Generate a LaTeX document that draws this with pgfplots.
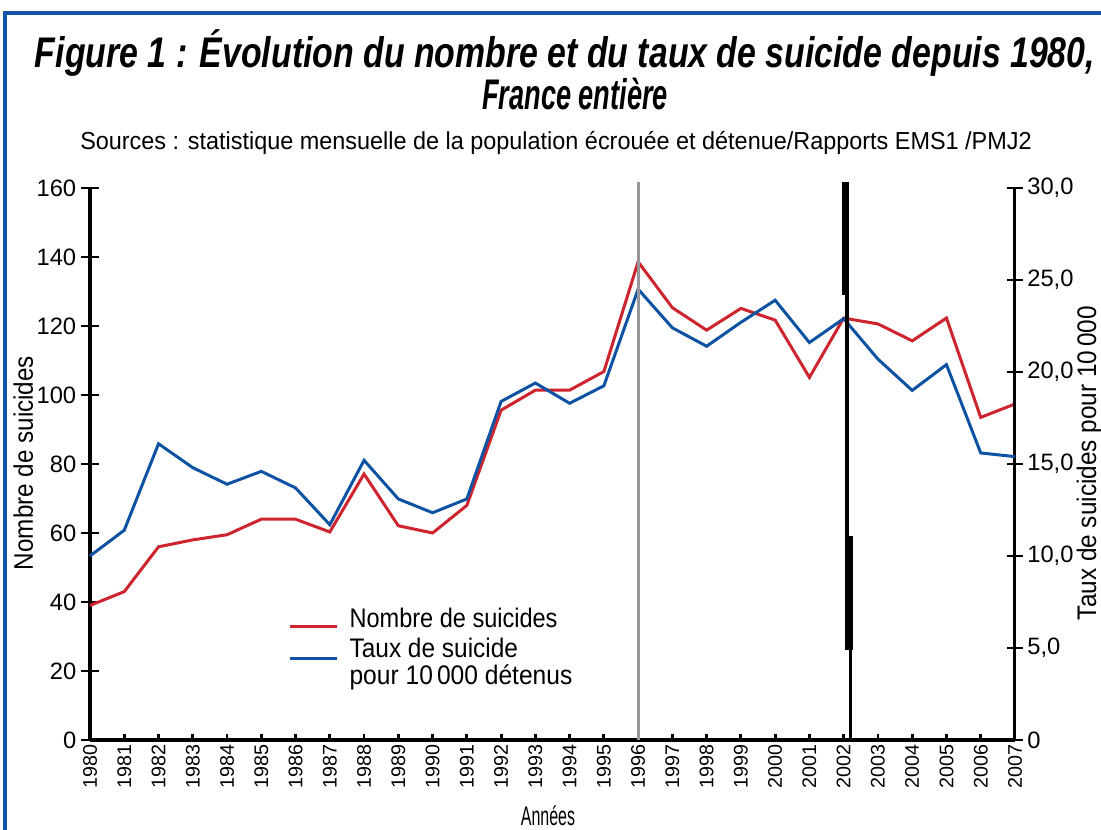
\documentclass[border=0pt]{standalone}
\usepackage{fontspec}
\setmainfont{Liberation Sans}
\usepackage{graphicx}
\usepackage{pgfplots}
\pgfplotsset{compat=1.18}
\definecolor{cred}{RGB}{206,36,46}
\definecolor{cblue}{RGB}{14,82,164}
\definecolor{cframe}{RGB}{20,84,164}
\definecolor{cgray}{RGB}{150,150,155}

\pgfplotstableread{
year count rate
1980 39    10.0
1981 43    11.4
1982 56    16.1
1983 58    14.8
1984 59.5  13.9
1985 64    14.6
1986 64    13.7
1987 60.3  11.7
1988 77.1  15.2
1989 62.1  13.1
1990 60    12.35
1991 68    13.1
1992 95.6  18.4
1993 101.4 19.4
1994 101.4 18.3
1995 106.8 19.25
1996 138.6 24.5
1997 125.3 22.4
1998 118.8 21.4
1999 125.1 22.7
2000 121.7 23.9
2001 105.1 21.6
2002 122.3 22.9
2003 120.6 20.7
2004 115.7 19.0
2005 122.3 20.4
2006 93.5  15.6
2007 97.4  15.4
}\data

\begin{document}
\begin{tikzpicture}
\begin{scope}[x=0.35pt,y=-0.35pt]
\useasboundingbox (0,0) rectangle (1101,830);
\draw[cframe, line width=1.4pt] (5,832) -- (5,12.5) -- (1103,12.5);
\node[anchor=base, inner sep=0pt] at (565,67) {\resizebox{371pt}{\height}{\fontsize{15}{17}\selectfont\bfseries\itshape Figure 1 : Évolution du nombre et du taux de suicide depuis 1980,}};
\node[anchor=base, inner sep=0pt] at (575,110) {\resizebox{65pt}{\height}{\fontsize{15}{17}\selectfont\bfseries\itshape France entière}};
\node[anchor=base, inner sep=0pt] at (556,150) {\resizebox{333pt}{\height}{\fontsize{8.6}{10}\selectfont Sources : statistique mensuelle de la population écrouée et détenue/Rapports EMS1 /PMJ2}};
% axis labels
\node[anchor=base, inner sep=0pt, rotate=90] at (33,463) {\resizebox{75pt}{\height}{\fontsize{9.4}{11}\selectfont Nombre de suicides}};
\node[anchor=base, inner sep=0pt, rotate=90] at (1096,463) {\resizebox{110pt}{\height}{\fontsize{9.4}{11}\selectfont Taux de suicides pour 10\,000}};
\node[anchor=base, inner sep=0pt] at (548,825) {\resizebox{19pt}{\height}{\fontsize{9.4}{11}\selectfont Années}};
% legend
\draw[cred, line width=1.05pt] (290,626) -- (337,626);
\draw[cblue, line width=1.05pt] (290,658) -- (337,658);
\node[anchor=base west, inner sep=0pt] at (349,627) {\resizebox{72.8pt}{\height}{\fontsize{9.4}{11}\selectfont Nombre de suicides}};
\node[anchor=base west, inner sep=0pt] at (349,657) {\resizebox{59pt}{\height}{\fontsize{9.4}{11}\selectfont Taux de suicide}};
\node[anchor=base west, inner sep=0pt] at (349,684) {\resizebox{78pt}{\height}{\fontsize{9.4}{11}\selectfont pour 10\,000 détenus}};
\end{scope}

\begin{axis}[
  at={(31.5pt,-259pt)}, anchor=south west,
  scale only axis, width=323.75pt, height=193.2pt,
  xmin=1980, xmax=2007, ymin=0, ymax=160,
  clip=false,
  axis x line*=bottom, axis y line*=left,
  axis line style={line width=1.3pt, black},
  xtick={1980,1981,...,2007}, ytick={0,20,...,160},
  xtick align=inside, ytick align=center,
  xtick style={/pgfplots/major tick length=2.2pt, line width=1pt, black},
  ytick style={/pgfplots/major tick length=6.3pt, line width=1pt, black},
  /pgf/number format/1000 sep={},
  /pgf/number format/assume math mode=true,
  xticklabel style={rotate=90, anchor=east, font=\fontsize{6.9}{7}\selectfont, inner sep=1.5pt},
  yticklabel style={font=\fontsize{8.3}{9}\selectfont, inner sep=1pt, xshift=-1.5pt},
]
\addplot[cred, line width=1.05pt] table[x=year, y=count] {\data};
\end{axis}

\begin{axis}[
  at={(31.5pt,-259pt)}, anchor=south west,
  scale only axis, width=323.75pt, height=193.2pt,
  xmin=1980, xmax=2007, ymin=0, ymax=30,
  clip=false,
  axis x line=none, axis y line*=right,
  axis line style={line width=1.05pt, black},
  ytick={0,5,...,30},
  yticklabels={0,{5,0},{10,0},{15,0},{20,0},{25,0},{30,0}},
  ytick align=center,
  ytick style={/pgfplots/major tick length=5.5pt, line width=1pt, black},
  yticklabel style={font=\fontsize{8.3}{9}\selectfont, inner sep=1pt, xshift=1pt},
]
\addplot[cblue, line width=1.05pt] table[x=year, y=rate] {\data};
% vertical reference lines
\addplot[cgray, line width=1.05pt] coordinates {(1996,0) (1996,30.3)};
\addplot[black, line width=2.45pt] coordinates {(2002.05,30.3) (2002.05,24.2)};
\addplot[black, line width=1.15pt] coordinates {(2002.10,24.2) (2002.10,4.9)};
\addplot[black, line width=2.45pt] coordinates {(2002.155,11.1) (2002.155,4.9)};
\addplot[black, line width=1.15pt] coordinates {(2002.2,4.9) (2002.2,0)};
\end{axis}
\end{tikzpicture}
\end{document}
